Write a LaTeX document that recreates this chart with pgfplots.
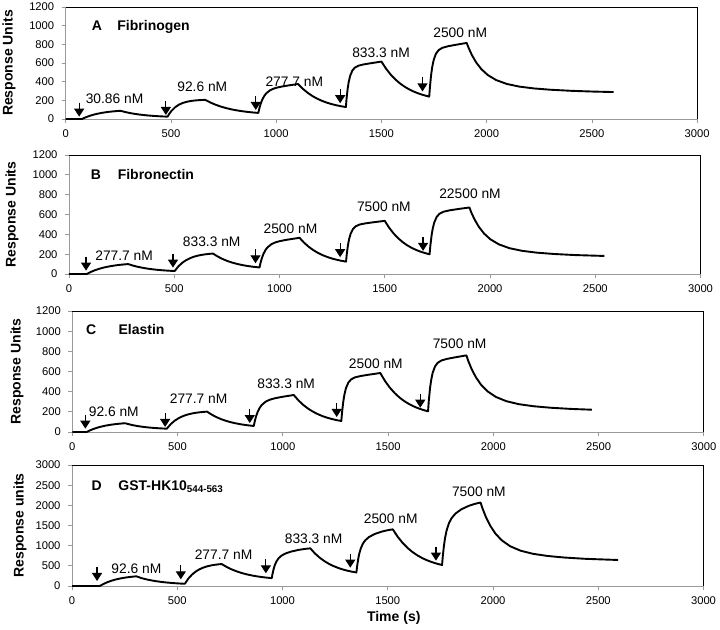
\documentclass[border=0pt]{standalone}
\usepackage{fontspec}
\setmainfont{Liberation Sans}
\usepackage{pgfplots}
\pgfplotsset{compat=1.18}
\usetikzlibrary{arrows.meta}
\pgfplotsset{
 spr/.style={
  scale only axis, width=631.5pt, anchor=south west,
  xmin=0,xmax=3000, xtick={0,500,...,3000},
  axis lines*=left, axis line style={draw=black!40, line width=0.8pt},
  tick style={draw=black!40, line width=0.8pt}, tick align=outside, major tick length=4pt,
  /pgf/number format/assume math mode=true,
  /pgf/number format/1000 sep={},
  ticklabel style={font=\fontsize{11.2}{13}\selectfont},
  xticklabel style={yshift=-3pt}, yticklabel style={xshift=-4pt},
  ylabel style={font=\bfseries\fontsize{14}{16}\selectfont, anchor=center, rotate=0},
  clip=false,
 },
 curve/.style={black, line width=1.9pt, line join=round},
}
\tikzset{arr/.style={line width=1.2pt, -{Triangle[width=10pt,length=8pt]}},
 lab/.style={font=\fontsize{13.8}{16}\selectfont, anchor=center},
 ttl/.style={font=\bfseries\fontsize{14}{16}\selectfont, anchor=base west}}
\newcommand{\frm}{\draw[black, line width=0.9pt] (rel axis cs:0,1) -- (rel axis cs:1,1) -- (rel axis cs:1,0);}
\newcommand{\arw}[2]{\draw[arr] ([yshift=14pt]axis cs:#1,#2) -- (axis cs:#1,#2);}
\begin{document}
\begin{tikzpicture}
\useasboundingbox (0,0) rectangle (720pt,629pt);
% Panel A
\begin{axis}[spr, at={(65.7pt,510pt)}, height=112pt, ymin=0, ymax=1200, ytick={0,200,...,1200},
  ylabel={Response Units}, ylabel style={at={([xshift=-56.7pt]axis description cs:0,0.5)}}]
\addplot[curve] coordinates {(0,0)(77,0)(95.3,18.5)(113.6,33.6)(131.9,45.9)(150.2,56.0)(168.5,64.3)(186.8,71.1)(205.1,76.7)(223.4,81.2)(241.7,84.9)(260,88)
(282.4,74.8)(304.8,64.0)(327.2,55.1)(349.6,47.9)(372,41.9)(394.4,37.1)(416.8,33.1)(439.2,29.9)(461.6,27.2)(484,25)
(492.95,58.2)(501.9,85.4)(519.8,126)(537.7,153.1)(555.6,171.3)(573.5,183.5)(591.4,191.7)(609.3,197.2)(627.2,200.9)(645.1,203.3)(663,205)
(688.2,175.6)(713.4,151.6)(738.6,131.9)(763.8,115.8)(789,102.7)(814.2,91.9)(839.4,83)(864.6,75.8)(889.8,69.9)(915,65)
(920.7,119.9)(926.3,163.3)(933.9,207.9)(943.4,247.6)(952.8,275.2)(971.7,309)(990.6,327.6)(1009.5,339.4)(1028.4,348)(1047.3,355.5)(1066.2,362.3)(1085.1,368.5)(1104,375)
(1126.7,323.2)(1149.4,280.8)(1172.1,246.1)(1194.8,217.7)(1217.5,194.4)(1240.2,175.4)(1262.9,159.8)(1285.6,147)(1308.3,136.6)(1331,128)
(1334.4,220.5)(1339.5,324.3)(1344.5,397.3)(1351.3,462.1)(1361.4,517.6)(1373.3,549.7)(1390.2,570.7)(1415.5,584.8)(1449.3,597.5)(1474.7,606.2)(1500,615)
(1522.7,536.4)(1545.4,472)(1568.1,419.3)(1590.8,376.2)(1613.5,340.9)(1636.2,312)(1658.9,288.3)(1681.6,268.9)(1704.3,253)(1727,240)
(1730.6,349.3)(1735.9,471.7)(1741.2,558)(1748.4,634.5)(1759,700)(1771.5,738)(1789.3,762.7)(1816,779.4)(1851.6,794.3)(1878.3,804.7)(1905,815)
(1915,757.2)(1930,683.7)(1950,605.8)(1975,533.1)(2005,471.2)(2045,416.9)(2095,375.8)(2155,347)(2225,327.3)(2305,313.2)(2405,301.5)(2505,293.9)(2603,288.7)};
\frm
\arw{64}{25}\arw{476}{43}\arw{903}{97}\arw{1304}{169}\arw{1695}{295}
\node[lab] at (axis cs:232,212) {30.86 nM};
\node[lab] at (axis cs:649,342) {92.6 nM};
\node[lab] at (axis cs:1086,404) {277.7 nM};
\node[lab] at (axis cs:1498,710) {833.3 nM};
\node[lab] at (axis cs:1874,926) {2500 nM};
\node[ttl] at (axis cs:107,946) {A};
\node[ttl] at (axis cs:229,946) {Fibrinogen};
\end{axis}
% Panel B
\begin{axis}[spr, at={(69pt,355pt)}, height=119pt, ymin=0, ymax=1200, ytick={0,200,...,1200},
  ylabel={Response Units}, ylabel style={at={([xshift=-57pt]axis description cs:0,0.5)}}]
\addplot[curve] coordinates {(0,0)(84,0)(103.7,21)(123.4,38.1)(143.1,52.2)(162.8,63.7)(182.5,73.1)(202.2,80.8)(221.9,87.1)(241.6,92.3)(261.3,96.5)(281,100)
(303.1,85.3)(325.2,73.3)(347.3,63.5)(369.4,55.4)(391.5,48.8)(413.6,43.4)(435.7,39)(457.8,35.4)(479.9,32.4)(502,30)
(520.2,78)(538.4,113.6)(556.6,139.9)(574.8,159.4)(593,173.9)(611.2,184.6)(629.4,192.5)(647.6,198.4)(665.8,202.8)(684,206)
(706.1,176.6)(728.2,152.6)(750.3,132.9)(772.4,116.8)(794.5,103.7)(816.6,92.9)(838.7,84)(860.8,76.8)(882.9,70.9)(905,66)
(910.7,118.9)(916.4,160.8)(924,203.8)(933.5,242.1)(943,268.7)(962,301.3)(981,319.3)(1000,330.6)(1019,339)(1038,346.2)(1057,352.7)(1076,358.7)(1095,365)
(1117.1,314.7)(1139.2,273.5)(1161.3,239.8)(1183.4,212.1)(1205.5,189.6)(1227.6,171.1)(1249.7,155.9)(1271.8,143.5)(1293.9,133.3)(1316,125)
(1319.7,203.1)(1325.2,290.6)(1330.7,352.3)(1338.1,407)(1349.1,453.8)(1362,480.9)(1380.4,498.6)(1408,510.5)(1444.8,521.2)(1472.4,528.6)(1500,536)
(1521.3,465.3)(1542.6,407.5)(1563.9,360.2)(1585.2,321.4)(1606.5,289.7)(1627.8,263.7)(1649.1,242.4)(1670.4,224.9)(1691.7,210.7)(1713,199)
(1716.8,288.7)(1722.5,389.2)(1728.1,460)(1735.7,522.8)(1747,576.6)(1760.3,607.8)(1779.2,628)(1807.5,641.7)(1845.3,654)(1873.7,662.5)(1902,671)
(1912,617)(1927,548.4)(1947,475.5)(1972,407.6)(2002,349.7)(2042,299)(2092,260.6)(2152,233.7)(2222,215.3)(2302,202.1)(2402,191.1)(2543,182)};
\frm
\arw{81}{34}\arw{494}{64}\arw{886}{108}\arw{1288}{169}\arw{1682}{233}
\node[lab] at (axis cs:262,182) {277.7 nM};
\node[lab] at (axis cs:678,327) {833.3 nM};
\node[lab] at (axis cs:1052,459) {2500 nM};
\node[lab] at (axis cs:1496,675) {7500 nM};
\node[lab] at (axis cs:1905,806) {22500 nM};
\node[ttl] at (axis cs:87,953) {B};
\node[ttl] at (axis cs:215,953) {Fibronectin};
\end{axis}
% Panel C
\begin{axis}[spr, at={(72.3pt,197pt)}, height=121pt, ymin=0, ymax=1200, ytick={0,200,...,1200},
  ylabel={Response Units}, ylabel style={at={([xshift=-55.3pt]axis description cs:0,0.5)}}]
\addplot[curve] coordinates {(0,0)(68,0)(86.3,18.2)(104.6,33.2)(122.9,45.4)(141.2,55.4)(159.5,63.6)(177.8,70.3)(196.1,75.8)(214.4,80.3)(232.7,84)(251,87)
(270.8,75.7)(290.6,66.4)(310.4,58.8)(330.2,52.6)(350,47.5)(369.8,43.4)(389.6,40)(409.4,37.2)(429.2,34.9)(449,33)
(468.1,79.1)(487.2,113.2)(506.3,138.5)(525.4,157.3)(544.5,171.2)(563.6,181.5)(582.7,189.1)(601.8,194.7)(620.9,198.9)(640,202)
(662.2,172.2)(684.4,147.9)(706.6,127.9)(728.8,111.6)(751,98.2)(773.2,87.3)(795.4,78.3)(817.6,70.9)(839.8,64.9)(862,60)
(867.7,114.3)(873.4,157.3)(881,201.5)(890.5,240.8)(900,268.1)(919,301.6)(938,320)(957,331.7)(976,340.3)(995,347.7)(1014,354.4)(1033,360.6)(1052,367)
(1074.6,312.9)(1097.2,268.6)(1119.8,232.4)(1142.4,202.7)(1165,178.4)(1187.6,158.5)(1210.2,142.2)(1232.8,128.9)(1255.4,118)(1278,109)
(1281.7,199.4)(1287.3,300.8)(1292.8,372.2)(1300.2,435.5)(1311.3,489.8)(1324.3,521.2)(1342.8,541.7)(1370.5,555.5)(1407.5,567.9)(1435.3,576.4)(1463,585)
(1485.7,505.3)(1508.4,440.1)(1531.1,386.7)(1553.8,343)(1576.5,307.2)(1599.2,277.9)(1621.9,253.9)(1644.6,234.3)(1667.3,218.2)(1690,205)
(1693.6,310.5)(1699.1,428.7)(1704.6,511.9)(1711.8,585.7)(1722.8,649)(1735.5,685.6)(1753.7,709.5)(1781,725.6)(1817.4,740)(1844.7,750)(1872,760)
(1882,700.2)(1897,624.2)(1917,543.5)(1942,468.3)(1972,404.1)(2012,348)(2062,305.4)(2122,275.6)(2192,255.3)(2272,240.6)(2372,228.5)(2468,221)};
\frm
\arw{62}{33}\arw{441}{50}\arw{843}{89}\arw{1256}{149}\arw{1653}{241}
\node[lab] at (axis cs:197,205) {92.6 nM};
\node[lab] at (axis cs:600,334) {277.7 nM};
\node[lab] at (axis cs:1016,479) {833.3 nM};
\node[lab] at (axis cs:1442,678) {2500 nM};
\node[lab] at (axis cs:1840,876) {7500 nM};
\node[ttl] at (axis cs:49,967) {C};
\node[ttl] at (axis cs:203,967) {Elastin};
\end{axis}
% Panel D
\begin{axis}[spr, at={(72pt,43pt)}, height=121pt, ymin=0, ymax=3000, ytick={0,500,...,3000},
  ylabel={Response units}, ylabel style={at={([xshift=-52pt]axis description cs:0,0.5)}},
  xlabel={Time (s)}, xlabel style={font=\bfseries\fontsize{14}{16}\selectfont, at={([xshift=6pt,yshift=-32pt]axis description cs:0.5,0)}, anchor=center}]
\addplot[curve] coordinates {(0,0)(132,0)(149.4,50.3)(166.8,91.5)(184.2,125.2)(201.6,152.9)(219,175.4)(236.4,193.9)(253.8,209.1)(271.2,221.5)(288.6,231.7)(306,240)
(329,197.3)(352,166.4)(375,141.1)(398,120.4)(421,103.4)(444,89.5)(467,78.2)(490,68.9)(513,61.2)(536,55)
(553.5,188.7)(571,287.7)(588.5,361)(606,415.4)(623.5,455.6)(641,485.5)(658.5,507.5)(676,523.9)(693.5,536)(711,545)
(734.8,471.6)(758.6,411.5)(782.4,362.4)(806.2,322.1)(830,289.2)(853.8,262.2)(877.6,240)(901.4,222)(925.2,207.1)(949,195)
(952.7,302.9)(958.2,427.8)(963.6,519.4)(971,606.6)(981.9,690.9)(994.8,750.7)(1013,803.9)(1040.5,853.4)(1077.1,895.9)(1104.6,917.7)(1132,934)
(1153.9,808.4)(1175.8,705.6)(1197.7,621.4)(1219.6,552.5)(1241.5,496.1)(1263.4,449.9)(1285.3,412.1)(1307.2,381.1)(1329.1,355.8)(1351,335)
(1354.5,491.2)(1359.7,672)(1364.8,804.7)(1371.8,931)(1382.1,1053)(1394.3,1139.6)(1411.6,1216.7)(1437.5,1288.4)(1472.1,1349.9)(1498.1,1381.5)(1524,1405)
(1547.4,1219.6)(1570.8,1067.9)(1594.2,943.7)(1617.6,842)(1641,758.8)(1664.4,690.6)(1687.8,634.8)(1711.2,589.1)(1734.6,551.7)(1758,521)
(1761.7,747.2)(1767.2,1008.9)(1772.6,1201)(1780,1383.8)(1790.9,1560.4)(1803.8,1685.8)(1822.1,1797.4)(1849.5,1901.2)(1886.1,1990.2)(1913.6,2035.9)(1941,2070)
(1951,1912.8)(1966,1713.1)(1986,1501)(2011,1303.3)(2041,1134.8)(2081,987.2)(2131,875.4)(2191,797)(2261,743.5)(2341,705)(2441,673.2)(2594,645)};
\frm
\arw{119}{124}\arw{517}{165}\arw{921}{314}\arw{1322}{455}\arw{1729}{628}
\node[lab] at (axis cs:306,438) {92.6 nM};
\node[lab] at (axis cs:720,769) {277.7 nM};
\node[lab] at (axis cs:1148,1165) {833.3 nM};
\node[lab] at (axis cs:1514,1661) {2500 nM};
\node[lab] at (axis cs:1933,2339) {7500 nM};
\node[ttl] at (axis cs:77,2380) {D};
\node[ttl] at (axis cs:204,2380) {GST-HK10\textsubscript{544-563}};
\end{axis}
\end{tikzpicture}
\end{document}
